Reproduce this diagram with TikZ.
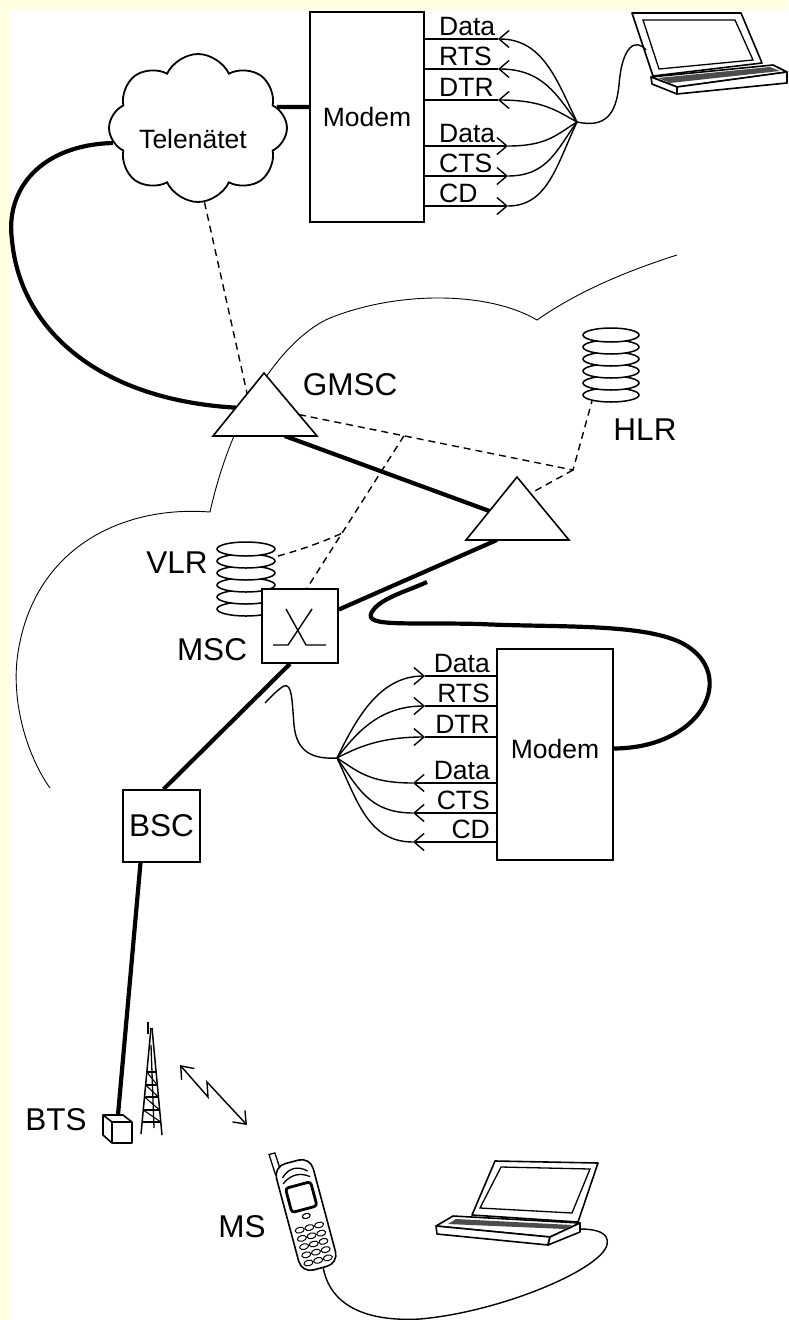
\documentclass[tikz,border=0pt]{standalone}
\usepackage{fontspec}
\setmainfont{Liberation Sans}
\usetikzlibrary{arrows.meta,shapes.symbols,calc}
\definecolor{paper}{RGB}{255,255,225}
\begin{document}
\begin{tikzpicture}[x=1pt,y=-1pt,
  net/.style={line width=4.2pt},
  outline/.style={line width=1.6pt},
  sig/.style={line width=1.4pt},
  link/.style={line width=1.4pt,dash pattern=on 7pt off 5pt},
  border/.style={line width=0.9pt},
  barb/.style={-{Straight Barb[length=10pt,width=17pt]}},
  small/.style={font=\fontsize{26.5}{26.5}\selectfont,inner sep=0pt},
  big/.style={font=\fontsize{31.5}{31.5}\selectfont,inner sep=0pt},
  box/.style={draw,outline,fill=white,inner sep=0pt},
  disk/.style={draw,line width=1.5pt,fill=white},
]
\useasboundingbox (0,0) rectangle (788,1320);
\fill[paper] (0,0) rectangle (788,1320);
\fill[white] (10,10) rectangle (788,1320);

% ---------- mobile network outline ----------
\draw[border] (677,255) .. controls (630,270) and (580,290) .. (537,320)
  .. controls (490,292) and (400,290) .. (330,318)
  .. controls (290,335) and (235,400) .. (210,512)
  .. controls (120,505) and (30,550) .. (17,660)
  .. controls (12,710) and (30,760) .. (50,788);

% ---------- fixed network side ----------
\node[cloud,draw,line width=1.8pt,cloud puffs=8,cloud puff arc=130,aspect=1.2,
      minimum width=178pt,minimum height=148pt,inner sep=0pt] (tele) at (198,128) {};
\node[small,anchor=base] (teleL) at (193,148) {Telenätet};

\node[box,small,minimum width=114pt,minimum height=210pt] (modemA) at (367,117) {Modem};

% switching nodes (triangles)
\coordinate (gA) at (264,373); \coordinate (gL) at (213,436); \coordinate (gR) at (317,436);
\coordinate (tA) at (517,477); \coordinate (tL) at (466,540); \coordinate (tR) at (569,540);

\node[box,minimum width=76pt,minimum height=74pt] (mscPre) at (300,626) {};

% trunk lines
\draw[net] (tele.15) -- ($(modemA.west)+(0,-10)$);
\draw[net] (tele.190) .. controls (40,145) and (5,190) .. (12,240)
  .. controls (20,330) and (100,400) .. ($(gA)!0.55!(gL)$);
\draw[net] ($(gL)!0.69!(gR)$) -- ($(tA)!0.54!(tL)$);
\draw[net] ($(tL)!0.3!(tR)$) -- (mscPre.23);

% signalling links
\coordinate (gDash) at ($(gA)!0.66!(gR)$);
\coordinate (hk) at (573,470);
\coordinate (hlrB) at (592,401);
\coordinate (mscTop) at ($(mscPre.north)+(7,0)$);
\coordinate (j1) at ($(gDash)!0.383!(hk)$);
\coordinate (j2) at ($(j1)!0.64!(mscTop)$);
\coordinate (vlrE) at (278,556);
\draw[link] (tele.275) -- ($(gA)!0.33!(gL)$);
\draw[link] (gDash) -- (hk) -- (hlrB);
\draw[link] (hk) -- ($(tA)!0.26!(tR)$);
\draw[link] (j1) -- (mscTop);
\draw[link] (vlrE) .. controls (300,550) and (320,543) .. (j2);

\draw[outline,fill=white,line join=miter] (gA) -- (gR) -- (gL) -- cycle;
\draw[outline,fill=white,line join=miter] (tA) -- (tR) -- (tL) -- cycle;
\node[big,anchor=base] (gmscL) at (350,395) {GMSC};

% registers
\foreach \k in {5,4,3,2,1,0}
  \draw[disk] (611,{335+12*\k}) ellipse [x radius=28pt,y radius=7pt];
\node[big,anchor=base] (hlrL) at (645,440) {HLR};
\foreach \k in {5,4,3,2,1,0}
  \draw[disk] (246,{549+12*\k}) ellipse [x radius=29pt,y radius=7pt];
\node[big,anchor=base] (vlrL) at (177,573) {VLR};

% MSC with switch symbol
\node[box,minimum width=76pt,minimum height=74pt] (msc) at (300,626) {};
\draw[sig] ($(msc.center)+(-27,19)$) -- ($(msc.center)+(-12,19)$) -- ($(msc.center)+(12,-17)$);
\draw[sig] ($(msc.center)+(-14,-17)$) -- ($(msc.center)+(6,19)$) -- ($(msc.center)+(26,19)$);
\node[big,anchor=base] (mscL) at (212,660) {MSC};

% BSC and BTS
\node[box,big,minimum width=77pt,minimum height=72pt] (bsc) at (161.5,826) {BSC};
\draw[net] ($(msc.south)+(-10,0)$) -- ($(bsc.north)+(2,0)$);
\coordinate (cubeTop) at (118,1115);
\draw[net] ($(bsc.south)+(-21,0)$) -- (cubeTop);
\draw[outline,fill=white,line join=round] (103,1115) -- (123,1115) -- (132,1122) -- (132,1143)
  -- (112,1143) -- (103,1135) -- cycle;
\draw[outline] (103,1115) -- (112,1122) -- (132,1122);
\draw[outline] (112,1122) -- (112,1143);
\node[big,anchor=base] (btsL) at (56,1130) {BTS};

% antenna mast
\draw[line width=1.5pt] (148,1022) -- (148,1034);
\draw[line width=1.5pt] (151,1028) -- (141,1134);
\draw[line width=1.5pt] (152,1028) -- (162,1135);
\draw[line width=1.3pt] (151,1045) -- (154,1128);
\draw[line width=1.3pt] (146.8,1072) -- (156.1,1072) (145.6,1085) -- (157.3,1085)
  (144.5,1097) -- (158.4,1097) (143.3,1110) -- (159.7,1110) (142.1,1122) -- (160.8,1122);
\draw[line width=1.1pt] (146.8,1072) -- (157.3,1085) (145.6,1085) -- (158.4,1097)
  (144.5,1097) -- (159.7,1110) (143.3,1110) -- (160.8,1122);

% radio link
\coordinate (rA) at (180,1065); \coordinate (rB) at (208,1097);
\coordinate (rC) at (207,1082); \coordinate (rD) at (247,1125);
\draw[sig,{Straight Barb[length=11pt,width=17pt]}-{Straight Barb[length=11pt,width=17pt]}]
  (rA) -- (rB) -- (rC) -- (rD);

% ---------- mobile station ----------
\begin{scope}[shift={(306,1215)},rotate=15]
  \draw[line width=1.3pt,fill=white] (-19,-46) -- (-20,-68) -- (-14,-68) -- (-13,-50);
  \draw[line width=1.6pt,fill=white,rounded corners=12pt] (-19,-55) rectangle (19,55);
  \draw[line width=1.3pt] (-13,-42) .. controls (-5,-50) and (5,-50) .. (13,-42);
  \draw[line width=1.3pt] (-14,-36) .. controls (-5,-43) and (5,-43) .. (14,-36);
  \draw[line width=2.8pt,rounded corners=3pt] (-13,-31) rectangle (13,-6);
  \draw[line width=1.1pt] (0,1) ellipse [x radius=4pt,y radius=2.5pt];
  \foreach \r in {0,...,4}
    \foreach \c in {-1,0,1}
      \draw[line width=1pt] ({10*\c},{13+8.5*\r}) ellipse [x radius=4.6pt,y radius=2.8pt];
  \coordinate (phoneBot) at (3,55);
\end{scope}
\node[big,anchor=base] (msL) at (242,1237) {MS};

% laptop at the mobile station
\draw[outline,fill=white,line join=round] (495,1161) -- (598,1163) -- (578,1222) -- (472,1215) -- cycle;
\draw[line width=1.3pt] (501,1167) -- (590,1169) -- (572,1213) -- (480,1208) -- cycle;
\draw[outline,fill=white,line join=round] (436,1226) -- (453,1216) -- (580,1223) -- (550,1237) -- cycle;
\draw[outline,fill=white,line join=round] (436,1226) -- (550,1237) -- (548,1245) -- (437,1234) -- cycle;
\draw[outline,fill=white,line join=round] (550,1237) -- (580,1223) -- (580,1232) -- (548,1245) -- cycle;
\fill[black!70] (456,1219) -- (572,1225) -- (565,1229) -- (448,1224) -- cycle;
\coordinate (lapB) at (580,1229);
\draw[sig] (phoneBot) .. controls (330,1305) and (365,1322) .. (420,1319)
  .. controls (500,1312) and (600,1270) .. (607,1245)
  .. controls (610,1232) and (595,1229) .. (lapB);

% laptop at the fixed side
\draw[outline,fill=white,line join=round] (632,13) -- (741,13) -- (762,63) -- (653,76) -- cycle;
\draw[line width=1.3pt] (643,20) -- (735,20) -- (753,60) -- (659,69) -- cycle;
\draw[outline,fill=white,line join=round] (651,77) -- (773,65) -- (787,72) -- (677,87) -- cycle;
\draw[outline,fill=white,line join=round] (677,87) -- (787,72) -- (787,83) -- (677,94) -- cycle;
\draw[outline,fill=white,line join=round] (651,77) -- (677,87) -- (677,94) -- (652,84) -- cycle;
\fill[black!70] (658,78) -- (770,67) -- (780,71) -- (670,83) -- cycle;
\coordinate (lapA) at (646,50);

% ---------- serial interface at the fixed modem ----------
\coordinate (convA) at (577,122);
\foreach \y/\t in {39/Data,69/RTS,100/DTR}{
  \coordinate (p) at (498,\y);
  \draw[sig,barb] (convA) .. controls +(-20,{-(122-\y)/2}) and +(45,0) .. (p);
  \draw[sig] (p) -- (modemA.east |- p);
  \node[small,anchor=base west] at (439,\y-4) {\t};
}
\foreach \y/\t in {146/Data,176/CTS,206/CD}{
  \coordinate (p) at (508,\y);
  \draw[sig,barb] (modemA.east |- p) -- (p);
  \draw[sig] (p) .. controls +(40,0) and +(-20,{(\y-122)/2}) .. (convA);
  \node[small,anchor=base west] at (439,\y-4) {\t};
}
\draw[sig] (convA) .. controls (605,128) and (616,115) .. (619,85)
  .. controls (622,45) and (636,38) .. (lapA);

% ---------- serial interface at the mobile side modem ----------
\node[box,minimum width=116pt,minimum height=211pt] (modemB) at (555,754.5) {};
\node[small,anchor=base] (modemBL) at (555,758) {Modem};
\coordinate (convB) at (337,758);
\foreach \y/\t in {676/Data,706/RTS,737/DTR}{
  \coordinate (p) at (425,\y);
  \draw[sig,barb] (convB) .. controls +(20,{-(758-\y)/2}) and +(-45,0) .. (p);
  \draw[sig] (p) -- (modemB.west |- p);
  \node[small,anchor=base east] at (490,\y-4) {\t};
}
\foreach \y/\t in {783/Data,813/CTS,842/CD}{
  \coordinate (p) at (413,\y);
  \draw[sig,barb] (modemB.west |- p) -- (p);
  \draw[sig] (p) .. controls +(-45,0) and +(20,{(\y-758)/2}) .. (convB);
  \node[small,anchor=base east] at (490,\y-4) {\t};
}
\coordinate (wEnd) at (265,703);
\draw[sig] (convB) .. controls (305,760) and (296,745) .. (294,725)
  .. controls (292,700) and (292,683) .. (284,686)
  .. controls (278,689) and (270,698) .. (wEnd);

\coordinate (mwEnd) at (427,582);
\draw[net] ($(modemB.east)+(0,-6)$) .. controls (700,748) and (735,680) .. (690,648)
  .. controls (655,622) and (560,628) .. (480,624)
  .. controls (400,622) and (358,628) .. (374,609)
  .. controls (384,597) and (410,590) .. (mwEnd);
\end{tikzpicture}
\end{document}
